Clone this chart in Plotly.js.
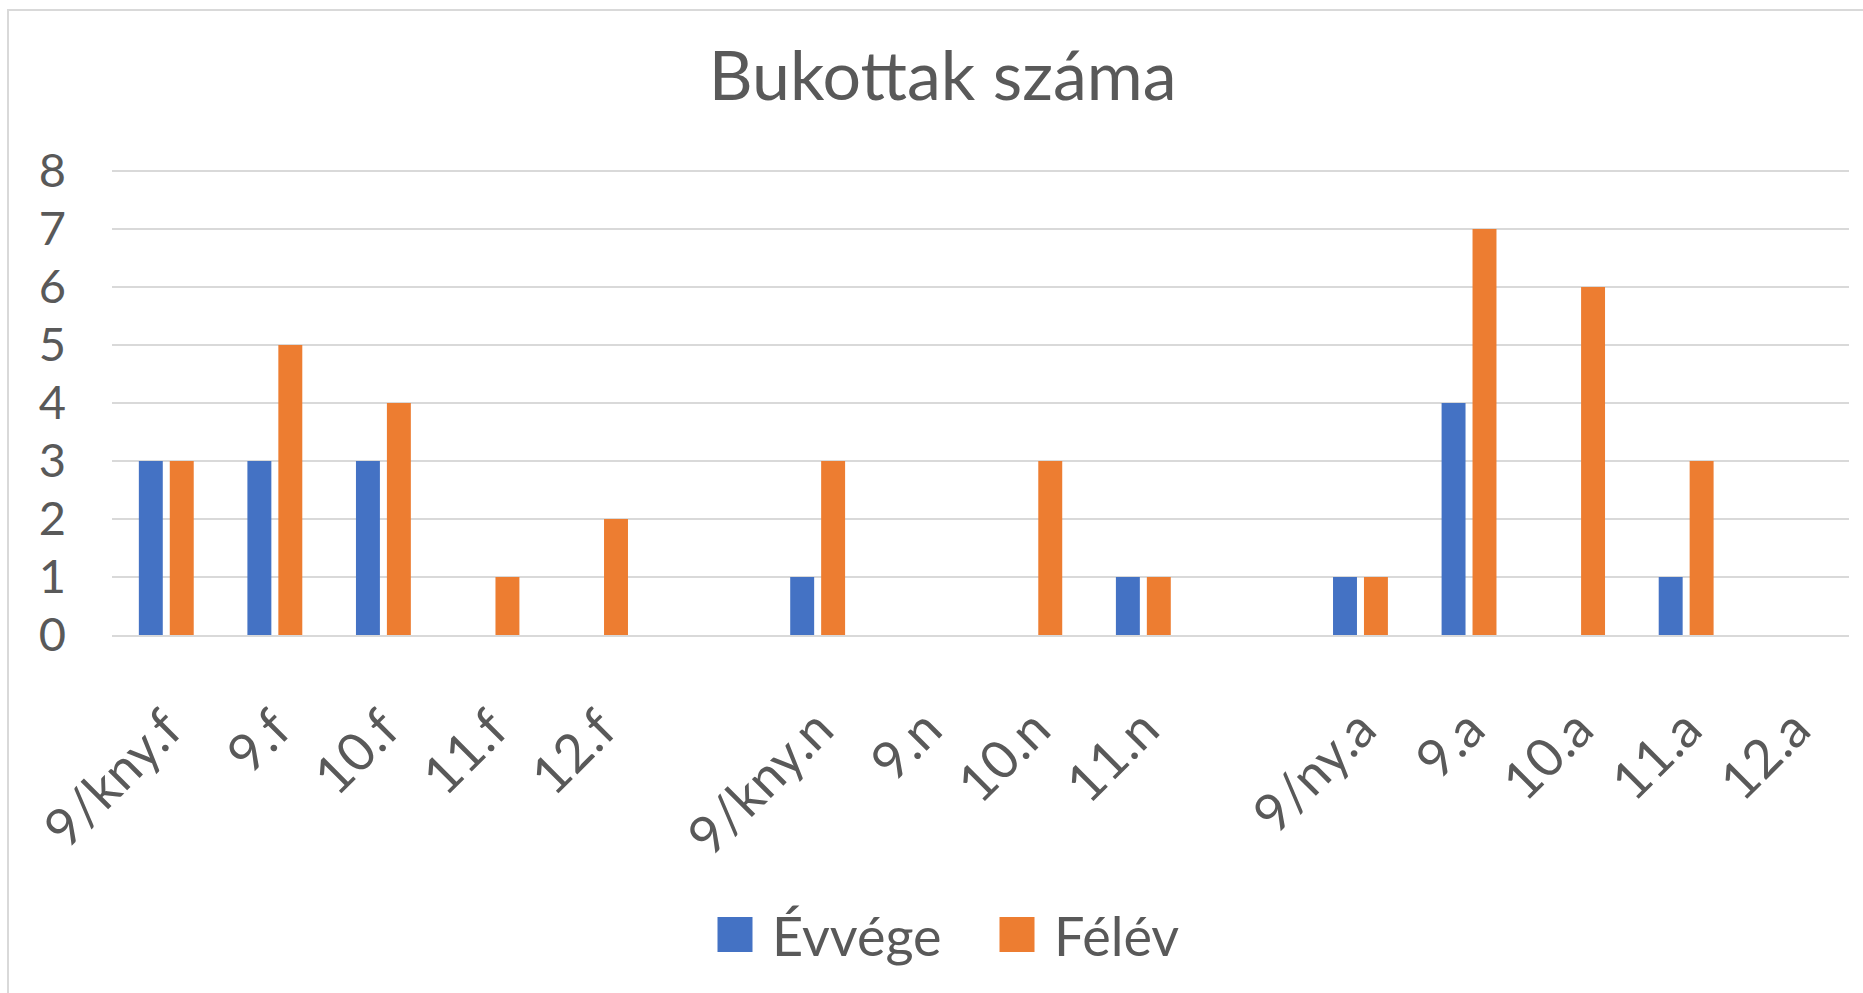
<!DOCTYPE html>
<html>
<head>
<meta charset="utf-8">
<script src="https://cdn.plot.ly/plotly-3.0.1.min.js"></script>
<style>
  html, body { margin: 0; padding: 0; background: #ffffff; }
  #wrap { position: relative; width: 1863px; height: 993px; }
  #chart { position: absolute; left: 0; top: 0; width: 1863px; height: 993px; }
  #frame { position: absolute; left: 7px; top: 9px; width: 1900px; height: 1100px;
           border-left: 2px solid #d9d9d9; border-top: 2px solid #d9d9d9; pointer-events: none; }
</style>
</head>
<body>
<div id="wrap">
  <div id="chart"></div>
  <div id="frame"></div>
</div>
<script>
const categories = ['9/kny.f', '9.f', '10.f', '11.f', '12.f', ' ',
                    '9/kny.n', '9.n', '10.n', '11.n', '  ',
                    '9/ny.a', '9.a', '10.a', '11.a', '12.a'];
const evvege = [3, 3, 3, 0, 0, null, 1, 0, 0, 1, null, 1, 4, 0, 1, 0];
const felev  = [3, 5, 4, 1, 2, null, 3, 0, 3, 1, null, 1, 7, 6, 3, 0];
const seriesNames = ['Évvége', 'Félév'];
const yTicks = [0, 1, 2, 3, 4, 5, 6, 7, 8];

const FONT = 'Lato, "Open Sans", sans-serif';
const GREY = '#595959';

const traces = [
  { type: 'bar', name: seriesNames[0], x: categories, y: evvege,
    marker: { color: '#4472C4' }, hoverinfo: 'x+y+name' },
  { type: 'bar', name: seriesNames[1], x: categories, y: felev,
    marker: { color: '#ED7D31' }, hoverinfo: 'x+y+name' }
];

const layout = {
  width: 1863, height: 993,
  margin: { l: 112, r: 14, t: 169, b: 358, pad: 0 },
  paper_bgcolor: 'rgba(0,0,0,0)', plot_bgcolor: 'rgba(0,0,0,0)',
  font: { family: FONT, color: GREY },
  title: { text: 'Bukottak száma', font: { family: FONT, size: 68, color: GREY },
           x: 0.506, xanchor: 'center', xref: 'container',
           y: 0.9235, yanchor: 'middle', yref: 'container' },
  barmode: 'group', bargap: 0.43, bargroupgap: 0.226,
  xaxis: { type: 'category', categoryorder: 'array', categoryarray: categories,
           tickangle: -45, tickfont: { family: FONT, size: 53, color: GREY },
           showgrid: false, zeroline: false, showline: true, linecolor: '#d9d9d9', linewidth: 1.5,
           ticks: '', ticklabelstandoff: 40, automargin: false },
  yaxis: { range: [0, 8.035], tickvals: yTicks, tickfont: { family: FONT, size: 47, color: GREY },
           showgrid: true, gridcolor: '#d9d9d9', gridwidth: 1.5, zeroline: false,
           showline: false, ticks: '', ticklabelstandoff: 45, automargin: false },
  showlegend: true,
  legend: { orientation: 'h', xref: 'container', yref: 'container',
            x: 698 / 1863, xanchor: 'left', y: 1 - 935 / 993, yanchor: 'middle',
            font: { family: FONT, size: 54, color: GREY }, itemwidth: 64, entrywidth: 203,
            bgcolor: 'rgba(0,0,0,0)', traceorder: 'normal' }
};

function enlargeLegendSymbols() {
  const half = 17.5;
  const d = 'M' + half + ',' + half + 'H' + (-half) + 'V' + (-half) + 'H' + half + 'Z';
  document.querySelectorAll('#chart .legend .legendpoints path').forEach(function (p) {
    p.setAttribute('d', d);
  });
}

Plotly.newPlot('chart', traces, layout, { displayModeBar: false, responsive: false })
  .then(function (gd) {
    enlargeLegendSymbols();
    gd.on('plotly_afterplot', enlargeLegendSymbols);
  });
</script>
</body>
</html>
